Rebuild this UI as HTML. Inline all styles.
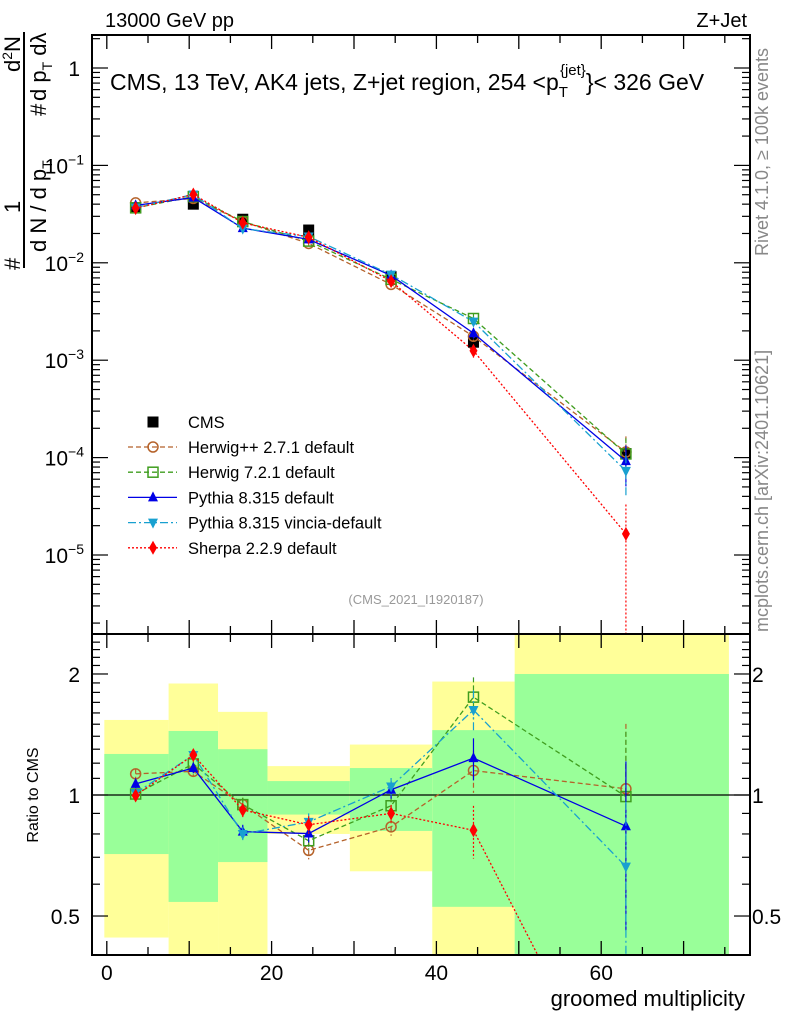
<!DOCTYPE html>
<html><head><meta charset="utf-8">
<style>
html,body{margin:0;padding:0;background:#fff;overflow:hidden;width:786px;height:1024px;}
svg{display:block;font-family:"Liberation Sans",sans-serif;}
</style></head>
<body>
<svg id="chart" width="786" height="1024" viewBox="0 0 786 1024" xmlns="http://www.w3.org/2000/svg">
<text x="105" y="27" font-size="20">13000 GeV pp</text>
<text x="747" y="27" font-size="20" text-anchor="end">Z+Jet</text>
<g id="main"></g>
<g id="ratio"></g>
<text x="110" y="90" font-size="23">CMS, 13 TeV, AK4 jets, Z+jet region, 254 &lt;p<tspan font-size="15" dy="7">T</tspan><tspan font-size="15" dx="-8" dy="-22">{jet}</tspan><tspan dy="15">}&lt; 326 GeV</tspan></text>
<text x="416" y="604" font-size="13" fill="#999" text-anchor="middle">(CMS_2021_I1920187)</text>
<text transform="translate(768,256) rotate(-90)" font-size="18" fill="#888">Rivet 4.1.0, ≥ 100k events</text>
<text transform="translate(768,632) rotate(-90)" font-size="18" fill="#888">mcplots.cern.ch [arXiv:2401.10621]</text>
<g font-size="22">
<line x1="24" y1="268" x2="24" y2="32" stroke="#000" stroke-width="2"/>
<text transform="translate(20,270) rotate(-90)">#</text>
<text transform="translate(20,213) rotate(-90)">1</text>
<text transform="translate(20,72) rotate(-90)">d<tspan font-size="14" dy="-8">2</tspan><tspan dy="8">N</tspan></text>
<text transform="translate(46,252) rotate(-90)">d N / d p<tspan font-size="14" dy="6">T</tspan></text>
<text transform="translate(46,116) rotate(-90)">#</text>
<text transform="translate(46,101) rotate(-90)">d p<tspan font-size="14" dy="6">T</tspan><tspan dy="-6"> dλ</tspan></text>
</g>
<text transform="translate(38,795) rotate(-90)" font-size="16" text-anchor="middle">Ratio to CMS</text>
<text x="745" y="1006" font-size="22" text-anchor="end">groomed multiplicity</text>
</svg>
<script>
// ---- data ----
const xCenters=[3.5,10.5,16.5,24.5,34.5,44.5,63];
const cmsValues=[0.0365,0.040,0.028,0.0217,0.0072,0.00153,0.00011];
const cmsErr=[0.002,0.002,0.0015,0.0012,0.0004,0.0001,0.00002];
const herwigppValues=[0.0412,0.0458,0.0265,0.0158,0.0060,0.00176,0.000114];
const herwig7Values=[0.0367,0.0478,0.0265,0.0167,0.00677,0.00268,0.000109];
const pythiaValues=[0.0389,0.0467,0.0227,0.0174,0.00742,0.00189,0.000092];
const vinciaValues=[0.0369,0.0503,0.0224,0.0186,0.00756,0.00249,0.000073];
const sherpaValues=[0.0364,0.0503,0.0257,0.0183,0.00648,0.00125,0.0000165];
const mcRelErr=[0.03,0.03,0.04,0.05,0.05,0.12,0.45];
const sherpaRelErr=[0.03,0.03,0.04,0.05,0.05,0.15,1.0];
const binEdges=[-0.3,7.5,13.5,19.5,29.5,39.5,49.5,75.5];
const bandYellowHi=[1.537,1.894,1.61,1.18,1.335,1.915,3.0];
const bandYellowLo=[0.442,0.3,0.3,0.80,0.646,0.3,0.3];
const bandGreenHi=[1.265,1.443,1.30,1.083,1.167,1.45,2.0];
const bandGreenLo=[0.713,0.542,0.681,0.894,0.814,0.527,0.3];
const xTickLabels=[0,20,40,60];
const yTickExps=[0,-1,-2,-3,-4,-5];
const ratioTickLabels=[0.5,1,2];

const NS="http://www.w3.org/2000/svg";
const L=92,R=750,T=35,MB=634,RB=955;
const X=v=>106.8+8.24*v;
const Y=v=>68-97.4*Math.log10(v);
const RY=r=>795-402*Math.log10(r);
function mk(tag,attrs,parent){const e=document.createElementNS(NS,tag);for(const k in attrs)e.setAttribute(k,attrs[k]);parent.appendChild(e);return e;}
const main=document.getElementById('main'), ratio=document.getElementById('ratio');

const defs=mk('defs',{},document.getElementById('chart'));
const c1=mk('clipPath',{id:'cm'},defs);mk('rect',{x:L,y:T,width:R-L,height:MB-T},c1);
const c2=mk('clipPath',{id:'cr'},defs);mk('rect',{x:L,y:MB,width:R-L,height:RB-MB},c2);

const bandG=mk('g',{'clip-path':'url(#cr)'},ratio);
binEdges.slice(0,-1).forEach((e,i)=>{
  const x0=X(e),x1=X(binEdges[i+1]);
  const y=mk('rect',{x:x0,y:RY(bandYellowHi[i]),width:x1-x0,height:RY(bandYellowLo[i])-RY(bandYellowHi[i]),fill:'#ffff99'},bandG);
  
  
  const g=mk('rect',{x:x0,y:RY(bandGreenHi[i]),width:x1-x0,height:RY(bandGreenLo[i])-RY(bandGreenHi[i]),fill:'#99ff99'},bandG);
  
  
});
mk('line',{x1:L,x2:R,y1:RY(1),y2:RY(1),stroke:'#000','stroke-width':1.2},ratio);

mk('rect',{x:L,y:T,width:R-L,height:MB-T,fill:'none',stroke:'#000','stroke-width':2},main);
mk('rect',{x:L,y:MB,width:R-L,height:RB-MB,fill:'none',stroke:'#000','stroke-width':2},ratio);

for(let v=0;v<=75;v+=5){
  const big=v%10===0, len=big?14:8;
  [[T,1,main],[MB,-1,main],[MB,1,ratio],[RB,-1,ratio]].forEach(([y0,d,p])=>{
    mk('line',{x1:X(v),x2:X(v),y1:y0,y2:y0+d*len,stroke:'#000','stroke-width':1.3},p);
  });
}
xTickLabels.forEach(v=>{const t=mk('text',{x:X(v),y:980,'font-size':21,'text-anchor':'middle'},ratio);t.textContent=v;

});

for(let e=-6;e<=0;e++){
  for(let m=1;m<=9;m++){
    const v=m*Math.pow(10,e),y=Y(v);
    if(y<T||y>MB)continue;
    const len=m===1?16:8;
    mk('line',{x1:L,x2:L+len,y1:y,y2:y,stroke:'#000','stroke-width':1.2},main);
    mk('line',{x1:R,x2:R-len,y1:y,y2:y,stroke:'#000','stroke-width':1.2},main);
  }
}
yTickExps.forEach(e=>{
  const t=mk('text',{x:e===0?80:84,y:Y(Math.pow(10,e))+8,'font-size':21,'text-anchor':'end'},main);
  
  
  if(e===0)t.textContent='1';
  else{t.textContent='10';const s=mk('tspan',{'font-size':14,dy:-9},t);s.textContent='−'+(-e);}
});
for(let r=0.4;r<=2.5;r+=0.1){
  const y=RY(r);if(y<MB||y>RB)continue;
  const big=[0.5,1,2].some(q=>Math.abs(q-r)<1e-6),len=big?16:8;
  mk('line',{x1:L,x2:L+len,y1:y,y2:y,stroke:'#000','stroke-width':1.2},ratio);
  mk('line',{x1:R,x2:R-len,y1:y,y2:y,stroke:'#000','stroke-width':1.2},ratio);
}
ratioTickLabels.forEach(r=>{
  const t=mk('text',{x:80,y:RY(r)+8,'font-size':21,'text-anchor':'end'},ratio);t.textContent=r;
  
  
  const t2=mk('text',{x:752,y:RY(r)+8,'font-size':21},ratio);t2.textContent=r;
  
  
});

function marker(type,x,y,col,p,s){
  s=s||5;
  if(type==='square')return mk('rect',{x:x-s,y:y-s,width:2*s,height:2*s,fill:col},p);
  if(type==='osquare')return mk('rect',{x:x-s,y:y-s,width:2*s,height:2*s,fill:'none',stroke:col,'stroke-width':1.5},p);
  if(type==='ocircle')return mk('circle',{cx:x,cy:y,r:s,fill:'none',stroke:col,'stroke-width':1.5},p);
  if(type==='tri')return mk('polygon',{points:`${x},${y-s-1} ${x-s},${y+s-1} ${x+s},${y+s-1}`,fill:col},p);
  if(type==='itri')return mk('polygon',{points:`${x},${y+s+1} ${x-s},${y-s+1} ${x+s},${y-s+1}`,fill:col},p);
  if(type==='diamond')return mk('polygon',{points:`${x},${y-s-2} ${x-s+1},${y} ${x},${y+s+2} ${x+s-1},${y}`,fill:col},p);
}
const series=[
 {name:'herwigpp',vals:herwigppValues,err:mcRelErr,col:'#b5622a',dash:'5,3',m:'ocircle',label:'Herwig++ 2.7.1 default'},
 {name:'herwig7',vals:herwig7Values,err:mcRelErr,col:'#3f9d1e',dash:'5,3',m:'osquare',label:'Herwig 7.2.1 default'},
 {name:'pythia',vals:pythiaValues,err:mcRelErr,col:'#0000e6',dash:'',m:'tri',label:'Pythia 8.315 default'},
 {name:'vincia',vals:vinciaValues,err:mcRelErr,col:'#18a0d0',dash:'8,3,2,3',m:'itri',label:'Pythia 8.315 vincia-default'},
 {name:'sherpa',vals:sherpaValues,err:sherpaRelErr,col:'#ff0000',dash:'2,2',m:'diamond',label:'Sherpa 2.2.9 default'}
];
const mg=mk('g',{'clip-path':'url(#cm)'},main);
const rg=mk('g',{'clip-path':'url(#cr)'},ratio);
cmsValues.forEach((v,i)=>{
  const m=marker('square',X(xCenters[i]),Y(v),'#000',mg,5.5);
  
  
  mk('line',{x1:X(xCenters[i]),x2:X(xCenters[i]),y1:Y(v+cmsErr[i]),y2:Y(v-cmsErr[i]),stroke:'#000'},mg);
});
series.forEach(s=>{
  const pts=s.vals.map((v,i)=>X(xCenters[i])+','+Y(v)).join(' ');
  const pl=mk('polyline',{points:pts,fill:'none',stroke:s.col,'stroke-width':1.3,'stroke-dasharray':s.dash},mg);
  
  
  const rpts=s.vals.map((v,i)=>X(xCenters[i])+','+RY(v/cmsValues[i])).join(' ');
  const rl=mk('polyline',{points:rpts,fill:'none',stroke:s.col,'stroke-width':1.3,'stroke-dasharray':s.dash},rg);
  
  
  s.vals.forEach((v,i)=>{
    const x=X(xCenters[i]),e=s.err[i];
    const lo=v*(1-e)>0?v*(1-e):1e-8;
    mk('line',{x1:x,x2:x,y1:Y(v*(1+e)),y2:Y(lo),stroke:s.col,'stroke-width':1.2,'stroke-dasharray':s.dash},mg);
    const r=v/cmsValues[i];
    const rlo=r*(1-e)>0?r*(1-e):0.01;
    mk('line',{x1:x,x2:x,y1:RY(r*(1+e)),y2:RY(rlo),stroke:s.col,'stroke-width':1.2,'stroke-dasharray':s.dash},rg);
    const p=marker(s.m,x,Y(v),s.col,mg);
    
    
    const rp=marker(s.m,x,RY(r),s.col,rg);
    
    
  });
});
const lg=mk('g',{},main);


marker('square',153,422,'#000',lg,5.5);
const lt=mk('text',{x:188,y:428,'font-size':16.5},lg);lt.textContent='CMS';
series.forEach((s,i)=>{
  const y=447+i*25.2;
  const g=mk('g',{},lg);
  
  
  mk('line',{x1:128,x2:177,y1:y,y2:y,stroke:s.col,'stroke-width':1.3,'stroke-dasharray':s.dash},g);
  marker(s.m,153,y,s.col,g);
  const t=mk('text',{x:188,y:y+6,'font-size':16.5},g);t.textContent=s.label;
});
</script>
</body></html>
